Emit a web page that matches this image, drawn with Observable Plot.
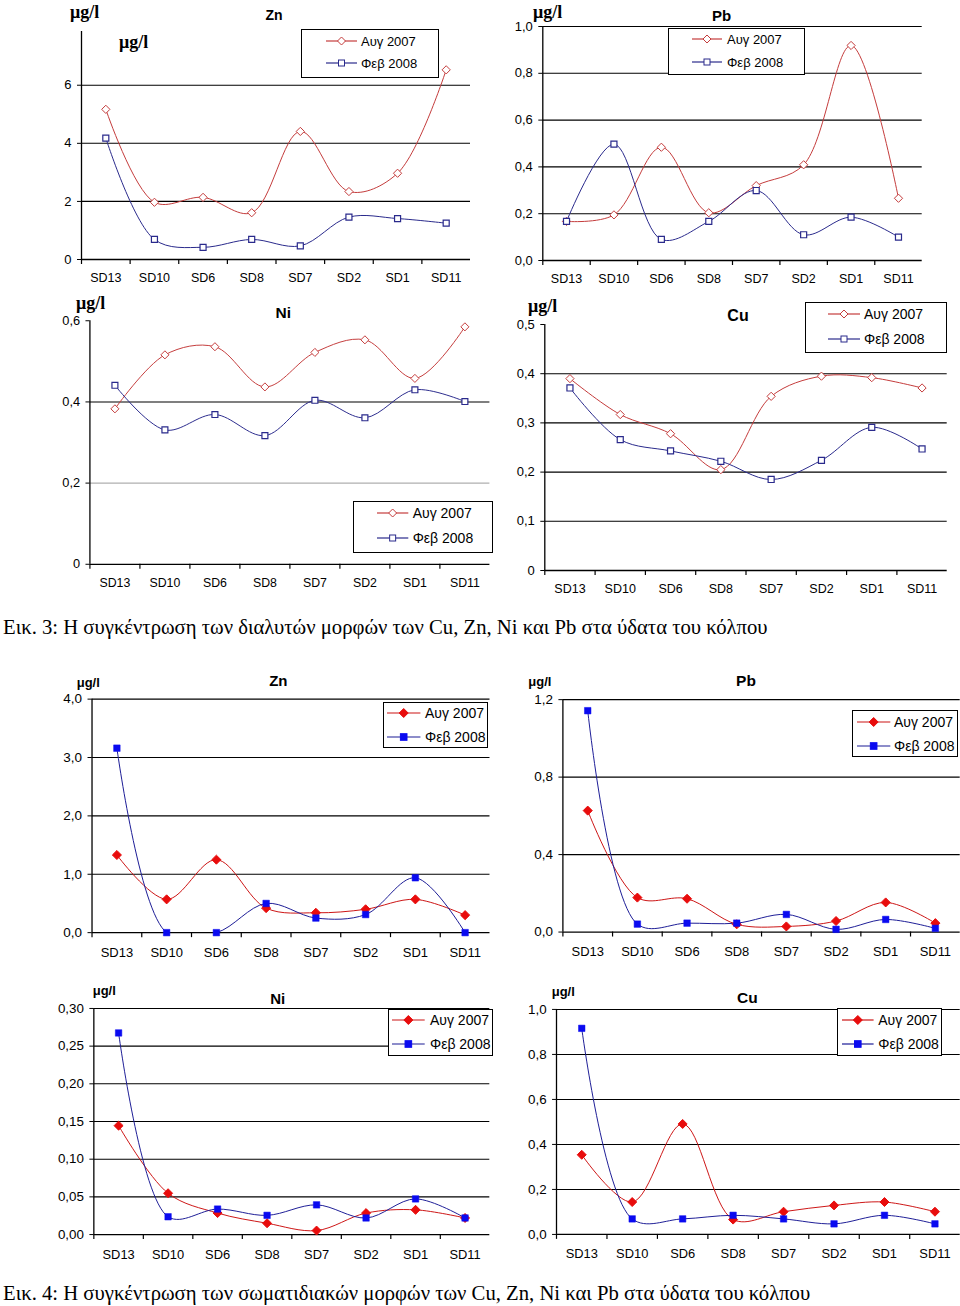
<!DOCTYPE html>
<html><head><meta charset="utf-8">
<script src="https://cdn.jsdelivr.net/npm/d3@7"></script>
<script src="https://cdn.jsdelivr.net/npm/@observablehq/plot@0.6"></script>
<style>
body{margin:0;background:#fff;}
#page{position:relative;width:960px;height:1306px;background:#fff;overflow:hidden;font-family:"Liberation Sans",Arial,sans-serif;color:#000;}
.panel{position:absolute;overflow:hidden;}
.panel svg{position:absolute;left:0;top:0;}
.title{position:absolute;font-weight:bold;transform:translate(-50%,-50%);white-space:nowrap;line-height:1;}
.unit{position:absolute;font-weight:bold;white-space:nowrap;line-height:1;transform:translateY(-50%);}
.legend{position:absolute;border:1px solid #000;background:#fff;box-sizing:border-box;}
.legend span{position:absolute;white-space:nowrap;line-height:1;transform:translateY(-50%);}
.legend svg{position:absolute;overflow:visible;}
.caption{position:absolute;left:3px;font-family:"Liberation Serif","Times New Roman",serif;font-size:20.7px;line-height:20px;white-space:nowrap;}
</style>
</head><body><div id="page"></div>
<script>
// ---------------- data ----------------
const stations = ["SD13","SD10","SD6","SD8","SD7","SD2","SD1","SD11"];
const seriesNames = ["Αυγ 2007","Φεβ 2008"];

// dissolved forms (Εικ. 3)
const znDissAug = [5.17,1.97,2.14,1.61,4.41,2.34,2.97,6.53];
const znDissFeb = [4.18,0.69,0.42,0.69,0.47,1.46,1.41,1.25];
const pbDissAug = [0.167,0.195,0.484,0.204,0.320,0.409,0.919,0.266];
const pbDissFeb = [0.167,0.497,0.090,0.167,0.299,0.110,0.185,0.100];
const niDissAug = [0.383,0.516,0.536,0.437,0.522,0.553,0.458,0.585];
const niDissFeb = [0.441,0.331,0.369,0.317,0.404,0.361,0.430,0.401];
const cuDissAug = [0.390,0.317,0.278,0.205,0.354,0.395,0.392,0.371];
const cuDissFeb = [0.371,0.266,0.243,0.222,0.185,0.224,0.291,0.247];

// particulate forms (Εικ. 4)
const znPartAug = [1.33,0.57,1.25,0.42,0.34,0.40,0.57,0.30];
const znPartFeb = [3.16,0.00,0.00,0.50,0.25,0.31,0.94,0.00];
const pbPartAug = [0.627,0.178,0.172,0.040,0.029,0.057,0.153,0.046];
const pbPartFeb = [1.143,0.041,0.046,0.046,0.091,0.014,0.065,0.019];
const niPartAug = [0.1445,0.0548,0.0285,0.0150,0.0053,0.0285,0.0328,0.0220];
const niPartFeb = [0.2675,0.0236,0.0338,0.0255,0.0394,0.0220,0.0473,0.0220];
const cuPartAug = [0.354,0.144,0.491,0.066,0.101,0.129,0.144,0.101];
const cuPartFeb = [0.916,0.069,0.069,0.085,0.069,0.047,0.085,0.047];

// tick labels / gridlines
const znDissTicks = [0,2,4,6];
const pbDissTicks = [0,0.2,0.4,0.6,0.8,1.0];
const niDissTicks = [0,0.2,0.4,0.6];
const cuDissTicks = [0,0.1,0.2,0.3,0.4,0.5];
const znPartTicks = [0,1,2,3,4];
const pbPartTicks = [0,0.4,0.8,1.2];
const niPartTicks = [0,0.05,0.10,0.15,0.20,0.25,0.30];
const cuPartTicks = [0,0.2,0.4,0.6,0.8,1.0];

const titles = ["Zn","Pb","Ni","Cu"];
const unitLabel = "μg/l";
const caption3 = "Εικ. 3: Η συγκέντρωση των διαλυτών μορφών των Cu, Zn, Ni και Pb στα ύδατα του κόλπου";
const caption4 = "Εικ. 4: Η συγκέντρωση των σωματιδιακών μορφών των Cu, Zn, Ni και Pb στα ύδατα του κόλπου";

// ---------------- styles ----------------
const hollow = {augLine:"#c43c3c", augMark:"#c43c3c", febLine:"#2a2a8c", febMark:"#2a2a8c", filled:false};
const solid  = {augLine:"#cc1414", augMark:"#e80c0c", febLine:"#1c1c96", febMark:"#0a0af0", filled:true};

const fmt = (dec, plainZero) => d => (plainZero && d === 0) ? "0" : d.toFixed(dec).replace(".", ",");

const page = document.getElementById("page");

// ---------------- panels ----------------
const panels = [
  {title:titles[0], aug:znDissAug, feb:znDissFeb, ticks:znDissTicks, grid:[2,4,6], ymax:7.85, tf:fmt(0,true),
   box:[0,0,490,290], svgW:490, ml:81, mr:20, mt:31, mb:31, st:hollow, yfs:13, xfs:12.5, xpad:13.5},
  {title:titles[1], aug:pbDissAug, feb:pbDissFeb, ticks:pbDissTicks, grid:[0.2,0.4,0.6,0.8,1.0], ymax:1.0, tf:fmt(1,false),
   box:[490,0,470,290], svgW:470, ml:52.3, mr:38.3, mt:26, mb:30, st:hollow, yfs:13, xfs:12.5, xpad:13.5},
  {title:titles[2], aug:niDissAug, feb:niDissFeb, ticks:niDissTicks, grid:[0.4], lightGrid:[0.2], ymax:0.6, tf:fmt(1,true),
   box:[0,290,490,310], svgW:497, ml:90.7, mr:0.6, mt:30.7, mb:32.3, st:hollow, yfs:13, xfs:12.5, xpad:14},
  {title:titles[3], aug:cuDissAug, feb:cuDissFeb, ticks:cuDissTicks, grid:[0.1,0.2,0.3,0.4], ymax:0.5, tf:fmt(1,true),
   box:[490,290,470,310], svgW:470, ml:54.3, mr:13.3, mt:34, mb:30, st:hollow, yfs:13, xfs:12.5, xpad:14},
  {title:titles[0], aug:znPartAug, feb:znPartFeb, ticks:znPartTicks, grid:[1,2,3,4], ymax:4, tf:fmt(1,false),
   box:[0,665,490,300], svgW:491, ml:91.7, mr:0.5, mt:33.7, mb:32.3, st:solid, yfs:13.5, xfs:13, xpad:15},
  {title:titles[1], aug:pbPartAug, feb:pbPartFeb, ticks:pbPartTicks, grid:[0.4,0.8,1.2], ymax:1.2, tf:fmt(1,false),
   box:[490,665,470,300], svgW:472, ml:72.7, mr:0.3, mt:34.3, mb:32.3, st:solid, yfs:13.5, xfs:13, xpad:15},
  {title:titles[2], aug:niPartAug, feb:niPartFeb, ticks:niPartTicks, grid:[0.05,0.10,0.15,0.20,0.25,0.30], ymax:0.3, tf:fmt(2,false),
   box:[0,975,490,300], svgW:495, ml:94.3, mr:0.7, mt:33.3, mb:38.3, st:solid, yfs:13.5, xfs:13, xpad:15},
  {title:titles[3], aug:cuPartAug, feb:cuPartFeb, ticks:cuPartTicks, grid:[0.2,0.4,0.6,0.8,1.0], ymax:1.0, tf:fmt(1,false),
   box:[490,975,470,300], svgW:475, ml:66.7, mr:0.3, mt:34.3, mb:38.3, st:solid, yfs:13.5, xfs:13, xpad:15}
];

function drawPanel(p) {
  const [L, T, W, H] = p.box;
  const div = document.createElement("div");
  div.className = "panel";
  Object.assign(div.style, {left: L+"px", top: T+"px", width: W+"px", height: H+"px"});
  page.appendChild(div);
  const augData = stations.map((s,i) => ({station:s, value:p.aug[i]}));
  const febData = stations.map((s,i) => ({station:s, value:p.feb[i]}));
  const bw = (p.svgW - p.ml - p.mr) / stations.length;
  const st = p.st;
  const markR = st.filled ? {d:4.1, s:3.7} : {d:3.7, s:3.4};
  const chart = Plot.plot({
    width: p.svgW, height: H,
    marginLeft: p.ml, marginRight: p.mr, marginTop: p.mt, marginBottom: p.mb,
    style: {fontFamily: '"Liberation Sans", Arial, sans-serif', fontSize: "12px", color: "#000", background: "transparent", overflow: "visible"},
    x: {type: "band", domain: stations, padding: 0, round: false, axis: null, label: null},
    y: {domain: [0, p.ymax], axis: null, label: null},
    marks: [
      Plot.ruleY(p.lightGrid || [], {stroke: "#9a9a9a", strokeWidth: 1}),
      Plot.ruleY(p.grid, {stroke: "#000", strokeWidth: 1.1}),
      Plot.ruleY([0], {stroke: "#000", strokeWidth: 1.3}),
      Plot.ruleX([stations[0]], {dx: -bw/2, y1: 0, y2: p.ymax, stroke: "#000", strokeWidth: 1.3}),
      Plot.axisY({ticks: p.ticks, tickFormat: p.tf, tickSize: 4, tickPadding: 6, fontSize: p.yfs, stroke: "#000", fill: "#000", label: null}),
      Plot.axisX({tickSize: 5, tickPadding: 0, tickFormat: () => "", dx: -bw/2, stroke: "#000", strokeWidth: 1.2, label: null}),
      Plot.axisX({tickSize: 0, tickPadding: p.xpad, fontSize: p.xfs, fill: "#000", label: null}),
      Plot.line(augData, {x: "station", y: "value", stroke: st.augLine, strokeWidth: 1, curve: "catmull-rom", clip: true}),
      Plot.line(febData, {x: "station", y: "value", stroke: st.febLine, strokeWidth: 1, curve: "catmull-rom", clip: true}),
      Plot.dot(augData, {x: "station", y: "value", symbol: "diamond2", r: markR.d,
        fill: st.filled ? st.augMark : "#fff", stroke: st.augMark, strokeWidth: 1}),
      Plot.dot(febData, {x: "station", y: "value", symbol: "square", r: markR.s,
        fill: st.filled ? st.febMark : "#fff", stroke: st.febMark, strokeWidth: st.filled ? 0.5 : 1.2})
    ]
  });
  div.appendChild(chart);
}
panels.forEach(drawPanel);

// ---------------- titles & units ----------------
const titlePos = [
  [274,15,14],[721.7,15,15],[283.3,312.7,15.5],[738,316,16],
  [278.3,680,15],[746,681,15.5],[277.7,997.7,15],[747.3,998.3,15.5]
];
titlePos.forEach((t,i) => {
  const el = document.createElement("div");
  el.className = "title";
  el.textContent = panels[i].title;
  Object.assign(el.style, {left: t[0]+"px", top: t[1]+"px", fontSize: t[2]+"px"});
  page.appendChild(el);
});
const unitPos = [
  [70,12,"serif"],[119,42,"serif"],[533,12,"serif"],[76,303,"serif"],[528,306,"serif"],
  [76.7,681.7,"sans"],[528.3,681,"sans"],[92.7,990,"sans"],[551.7,991,"sans"]
];
unitPos.forEach(u => {
  const el = document.createElement("div");
  el.className = "unit";
  el.textContent = unitLabel;
  const serif = u[2] === "serif";
  Object.assign(el.style, {left: u[0]+"px", top: u[1]+"px",
    fontFamily: serif ? '"Liberation Serif","Times New Roman",serif' : '"Liberation Sans",Arial,sans-serif',
    fontSize: serif ? "18px" : "13px"});
  page.appendChild(el);
});

// ---------------- legends ----------------
const legends = [
  {l:301, t:29, r:439, b:78, rows:[41,63], x1:326, x2:357, tx:361, fs:13, st:hollow},
  {l:667.7, t:27.7, r:805, b:75, rows:[39,62], x1:692, x2:722, tx:727, fs:13, st:hollow},
  {l:353.3, t:501, r:493, b:552.7, rows:[513.3,538.3], x1:376.7, x2:408, tx:412.7, fs:14, st:hollow},
  {l:805, t:301.7, r:946.7, b:353.3, rows:[314,339.3], x1:828, x2:860, tx:864, fs:14, st:hollow},
  {l:382.7, t:701.7, r:488.3, b:748.3, rows:[713.3,736.7], x1:387.3, x2:420.7, tx:425, fs:14, st:solid},
  {l:852.3, t:710, r:958.3, b:757, rows:[722.3,745.7], x1:856.7, x2:890, tx:894, fs:14, st:solid},
  {l:387.7, t:1009, r:493, b:1055.7, rows:[1020,1044.3], x1:392.3, x2:425, tx:430, fs:14, st:solid},
  {l:836.7, t:1008.3, r:942.3, b:1055.7, rows:[1020,1044.3], x1:841.7, x2:873.3, tx:878.3, fs:14, st:solid}
];
const NS = "http://www.w3.org/2000/svg";
legends.forEach(L => {
  const box = document.createElement("div");
  box.className = "legend";
  Object.assign(box.style, {left: L.l+"px", top: L.t+"px", width: (L.r-L.l)+"px", height: (L.b-L.t)+"px"});
  page.appendChild(box);
  seriesNames.forEach((name, k) => {
    const cy = L.rows[k] - L.t - 1;
    const st = L.st;
    const lineC = k === 0 ? st.augLine : st.febLine;
    const markC = k === 0 ? st.augMark : st.febMark;
    const s = document.createElementNS(NS, "svg");
    const w = L.x2 - L.x1;
    s.setAttribute("width", w); s.setAttribute("height", 12);
    Object.assign(s.style, {left: (L.x1 - L.l - 1)+"px", top: (cy - 6)+"px"});
    const ln = document.createElementNS(NS, "line");
    ln.setAttribute("x1", 0); ln.setAttribute("x2", w); ln.setAttribute("y1", 6); ln.setAttribute("y2", 6);
    ln.setAttribute("stroke", lineC); ln.setAttribute("stroke-width", 1.2);
    s.appendChild(ln);
    const cx = w/2;
    let m;
    if (k === 0) {
      const h = st.filled ? 4.5 : 4;
      m = document.createElementNS(NS, "polygon");
      m.setAttribute("points", `${cx},${6-h} ${cx+h},6 ${cx},${6+h} ${cx-h},6`);
    } else {
      const h = st.filled ? 3.3 : 3;
      m = document.createElementNS(NS, "rect");
      m.setAttribute("x", cx-h); m.setAttribute("y", 6-h); m.setAttribute("width", 2*h); m.setAttribute("height", 2*h);
    }
    m.setAttribute("fill", st.filled ? markC : "#fff");
    m.setAttribute("stroke", markC);
    m.setAttribute("stroke-width", 1);
    s.appendChild(m);
    box.appendChild(s);
    const sp = document.createElement("span");
    sp.textContent = name;
    Object.assign(sp.style, {left: (L.tx - L.l - 1)+"px", top: cy+"px", fontSize: L.fs+"px"});
    box.appendChild(sp);
  });
});

// ---------------- captions ----------------
[[caption3, 617],[caption4, 1283]].forEach(([txt, top]) => {
  const el = document.createElement("div");
  el.className = "caption";
  el.textContent = txt;
  el.style.top = top + "px";
  page.appendChild(el);
});
</script>
</body></html>
